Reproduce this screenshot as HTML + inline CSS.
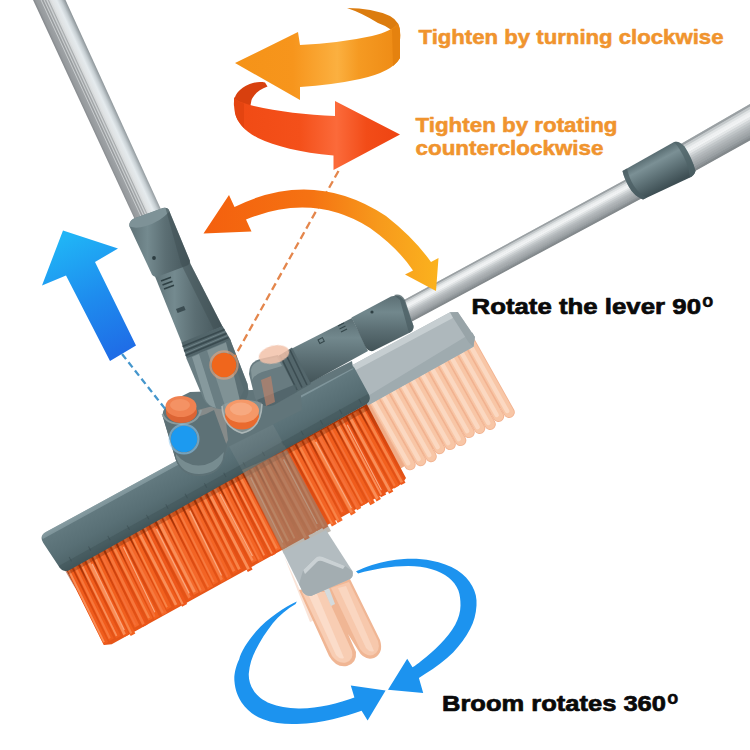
<!DOCTYPE html>
<html><head><meta charset="utf-8"><title>Broom</title>
<style>
html,body{margin:0;padding:0;background:#fff;}
body{width:750px;height:750px;overflow:hidden;font-family:"Liberation Sans",sans-serif;}
svg{display:block;}
text{font-family:"Liberation Sans",sans-serif;font-weight:bold;}
</style></head><body>
<svg width="750" height="750" viewBox="0 0 750 750">
<rect width="750" height="750" fill="#ffffff"/>

<defs>
  <linearGradient id="gPoleL" x1="0" y1="0" x2="1" y2="0">
    <stop offset="0" stop-color="#82868a"/>
    <stop offset="0.08" stop-color="#969a9d"/>
    <stop offset="0.30" stop-color="#a2a6a9"/>
    <stop offset="0.44" stop-color="#bec2c4"/>
    <stop offset="0.56" stop-color="#dfe2e3"/>
    <stop offset="0.72" stop-color="#e5ebee"/>
    <stop offset="0.85" stop-color="#c6ced2"/>
    <stop offset="0.94" stop-color="#a1a9ad"/>
    <stop offset="1" stop-color="#878f93"/>
  </linearGradient>
  <linearGradient id="gPoleR" x1="0" y1="0" x2="0" y2="1">
    <stop offset="0" stop-color="#9aa0a3"/>
    <stop offset="0.12" stop-color="#d9dddf"/>
    <stop offset="0.35" stop-color="#eef0f1"/>
    <stop offset="0.6" stop-color="#c9cdd0"/>
    <stop offset="0.85" stop-color="#a9aeb1"/>
    <stop offset="1" stop-color="#83898c"/>
  </linearGradient>
  <linearGradient id="gTubeL" x1="0" y1="0" x2="1" y2="0">
    <stop offset="0" stop-color="#5f7277"/>
    <stop offset="0.3" stop-color="#748a8f"/>
    <stop offset="0.6" stop-color="#5b6e73"/>
    <stop offset="1" stop-color="#45565b"/>
  </linearGradient>
  <linearGradient id="gTubeR" x1="0" y1="0" x2="0" y2="1">
    <stop offset="0" stop-color="#5c6f74"/>
    <stop offset="0.3" stop-color="#72888d"/>
    <stop offset="0.65" stop-color="#596c71"/>
    <stop offset="1" stop-color="#435458"/>
  </linearGradient>
  <linearGradient id="gBar" x1="0" y1="0" x2="0" y2="1">
    <stop offset="0" stop-color="#7a9196"/>
    <stop offset="0.10" stop-color="#62797f"/>
    <stop offset="0.55" stop-color="#586f75"/>
    <stop offset="0.85" stop-color="#4f656a"/>
    <stop offset="1" stop-color="#42565b"/>
  </linearGradient>
  <linearGradient id="gBarGhost" x1="0" y1="0" x2="0" y2="1">
    <stop offset="0" stop-color="#c4cccf"/>
    <stop offset="0.15" stop-color="#b3bcc0"/>
    <stop offset="0.8" stop-color="#a9b3b7"/>
    <stop offset="1" stop-color="#9aa5a9"/>
  </linearGradient>
  <linearGradient id="gBlueArrow" gradientUnits="userSpaceOnUse" x1="70" y1="235" x2="125" y2="355">
    <stop offset="0" stop-color="#20b4f6"/>
    <stop offset="0.5" stop-color="#1e8cee"/>
    <stop offset="1" stop-color="#1f6be6"/>
  </linearGradient>
  <linearGradient id="gOrA" gradientUnits="userSpaceOnUse" x1="235" y1="0" x2="400" y2="0">
    <stop offset="0" stop-color="#f59318"/>
    <stop offset="0.35" stop-color="#f7951c"/>
    <stop offset="0.62" stop-color="#fbb040"/>
    <stop offset="0.75" stop-color="#f59a22"/>
    <stop offset="1" stop-color="#ee8a14"/>
  </linearGradient>
  <linearGradient id="gRedA" gradientUnits="userSpaceOnUse" x1="233" y1="0" x2="400" y2="0">
    <stop offset="0" stop-color="#f04a14"/>
    <stop offset="0.4" stop-color="#f4501a"/>
    <stop offset="0.62" stop-color="#fb6a3a"/>
    <stop offset="0.8" stop-color="#f24c18"/>
    <stop offset="1" stop-color="#ee4412"/>
  </linearGradient>
  <linearGradient id="gArc" gradientUnits="userSpaceOnUse" x1="205" y1="0" x2="438" y2="0">
    <stop offset="0" stop-color="#f4600e"/>
    <stop offset="0.45" stop-color="#f57212"/>
    <stop offset="0.75" stop-color="#f79a1c"/>
    <stop offset="1" stop-color="#fbb21e"/>
  </linearGradient>
  <filter id="soft" x="-5%" y="-5%" width="110%" height="110%"><feGaussianBlur stdDeviation="0.6"/></filter>
  <filter id="soft2" x="-10%" y="-10%" width="120%" height="120%"><feGaussianBlur stdDeviation="1.2"/></filter>
</defs>

<g transform="translate(49.3,0) rotate(-24.7)"><polygon points="-14.8,-20 14.8,-20 14.0,246 -14.0,246" fill="url(#gPoleL)"/><path d="M-7.5,-20 L-7.1,246 M-4.8,-20 L-4.5,246 M-2.2,-20 L-2.0,246 M0.6,-20 L0.6,246" stroke="#d9dcdd" stroke-width="0.8" opacity="0.8"/><path d="M-6.1,-20 L-5.8,246 M-3.5,-20 L-3.2,246 M-0.8,-20 L-0.7,246" stroke="#8f9395" stroke-width="0.7" opacity="0.7"/></g>
<g>
<polygon points="404.0,300.0 640.0,171.8 648.0,194.7 412.0,321.0" fill="#c5cacc"/>
<polygon points="404.0,300.0 640.0,171.8 640.6,173.8 404.6,301.9" fill="#9aa0a3"/>
<polygon points="404.6,301.5 640.6,173.4 641.1,175.5 405.1,303.4" fill="#c4c9cb"/>
<polygon points="405.1,303.0 641.1,175.1 641.7,177.1 405.7,304.9" fill="#dfe3e4"/>
<polygon points="405.7,304.5 641.7,176.7 642.3,178.7 406.3,306.4" fill="#eef0f1"/>
<polygon points="406.3,306.0 642.3,178.3 642.9,180.4 406.9,307.9" fill="#f1f3f4"/>
<polygon points="406.9,307.5 642.9,180.0 643.4,182.0 407.4,309.4" fill="#e4e7e8"/>
<polygon points="407.4,309.0 643.4,181.6 644.0,183.7 408.0,310.9" fill="#d2d6d8"/>
<polygon points="408.0,310.5 644.0,183.2 644.6,185.3 408.6,312.4" fill="#c2c7c9"/>
<polygon points="408.6,312.0 644.6,184.9 645.1,186.9 409.1,313.9" fill="#b6bbbe"/>
<polygon points="409.1,313.5 645.1,186.5 645.7,188.6 409.7,315.4" fill="#adb2b5"/>
<polygon points="409.7,315.0 645.7,188.2 646.3,190.2 410.3,316.9" fill="#a5aaad"/>
<polygon points="410.3,316.5 646.3,189.8 646.9,191.8 410.9,318.4" fill="#9ca2a5"/>
<polygon points="410.9,318.0 646.9,191.4 647.4,193.5 411.4,319.9" fill="#90969a"/>
<polygon points="411.4,319.5 647.4,193.1 648.0,195.1 412.0,321.4" fill="#83898c"/>
</g>
<g>
<polygon points="676.0,146.7 752.0,102.8 752.0,139.0 688.0,174.7" fill="#c5cacc"/>
<polygon points="676.0,146.7 752.0,102.8 752.0,105.8 676.9,149.1" fill="#9aa0a3"/>
<polygon points="676.9,148.7 752.0,105.4 752.0,108.4 677.7,151.1" fill="#c4c9cb"/>
<polygon points="677.7,150.7 752.0,108.0 752.0,111.0 678.6,153.1" fill="#dfe3e4"/>
<polygon points="678.6,152.7 752.0,110.6 752.0,113.5 679.4,155.1" fill="#eef0f1"/>
<polygon points="679.4,154.7 752.0,113.1 752.0,116.1 680.3,157.1" fill="#f1f3f4"/>
<polygon points="680.3,156.7 752.0,115.7 752.0,118.7 681.1,159.1" fill="#e4e7e8"/>
<polygon points="681.1,158.7 752.0,118.3 752.0,121.3 682.0,161.1" fill="#d2d6d8"/>
<polygon points="682.0,160.7 752.0,120.9 752.0,123.9 682.9,163.1" fill="#c2c7c9"/>
<polygon points="682.9,162.7 752.0,123.5 752.0,126.5 683.7,165.1" fill="#b6bbbe"/>
<polygon points="683.7,164.7 752.0,126.1 752.0,129.1 684.6,167.1" fill="#adb2b5"/>
<polygon points="684.6,166.7 752.0,128.7 752.0,131.6 685.4,169.1" fill="#a5aaad"/>
<polygon points="685.4,168.7 752.0,131.2 752.0,134.2 686.3,171.1" fill="#9ca2a5"/>
<polygon points="686.3,170.7 752.0,133.8 752.0,136.8 687.1,173.1" fill="#90969a"/>
<polygon points="687.1,172.7 752.0,136.4 752.0,139.4 688.0,175.1" fill="#83898c"/>
</g>
<linearGradient id="gCollar" gradientUnits="userSpaceOnUse" x1="648" y1="156" x2="665" y2="188"><stop offset="0" stop-color="#586c71"/><stop offset="0.25" stop-color="#7b9095"/><stop offset="0.55" stop-color="#62767b"/><stop offset="1" stop-color="#3e4f54"/></linearGradient>
<path d="M622.5,171 L674,142 Q679,140.5 684.5,146.5 Q692,158 695.5,171 Q694.5,175 690,177.5 L643,199.5 Q634,196 629,187 Q624,178 622.5,171 Z" fill="url(#gCollar)"/>
<path d="M622.5,171 L627,168.5 Q629,178 634,186 Q640,195 647,197.5 L643,199.5 Q634,196 629,187 Q624,178 622.5,171 Z" fill="#4a5c61" opacity="0.75"/>
<path d="M674,142 Q679,140.5 684.5,146.5 Q692,158 695.5,171 Q694.5,175 690,177.5 Q688,162 680,150 Q677,145 674,142 Z" fill="#4f6267" opacity="0.7"/>
<polygon points="362.7,404.9 473.2,342.4 508.5,402.9 399.9,468.9" fill="#efab86"/>
<line x1="371.3" y1="395.7" x2="410.0" y2="464.6" stroke="#f2b391" stroke-width="11.4" stroke-linecap="round"/>
<line x1="371.3" y1="395.7" x2="410.0" y2="464.6" stroke="#f8c6a6" stroke-width="9.6" stroke-linecap="round"/>
<line x1="371.4" y1="397.9" x2="408.2" y2="463.3" stroke="#fbd8c1" stroke-width="4.4" stroke-linecap="round"/>
<line x1="381.2" y1="390.3" x2="420.6" y2="460.5" stroke="#f2b391" stroke-width="11.4" stroke-linecap="round"/>
<line x1="381.2" y1="390.3" x2="420.6" y2="460.5" stroke="#f8c6a6" stroke-width="9.6" stroke-linecap="round"/>
<line x1="381.2" y1="392.5" x2="418.7" y2="459.2" stroke="#fbd8c1" stroke-width="4.4" stroke-linecap="round"/>
<line x1="391.0" y1="384.9" x2="431.1" y2="456.5" stroke="#f2b391" stroke-width="11.4" stroke-linecap="round"/>
<line x1="391.0" y1="384.9" x2="431.1" y2="456.5" stroke="#f8c6a6" stroke-width="9.6" stroke-linecap="round"/>
<line x1="391.1" y1="387.2" x2="429.3" y2="455.2" stroke="#fbd8c1" stroke-width="4.4" stroke-linecap="round"/>
<line x1="400.8" y1="379.6" x2="439.5" y2="448.5" stroke="#f2b391" stroke-width="11.4" stroke-linecap="round"/>
<line x1="400.8" y1="379.6" x2="439.5" y2="448.5" stroke="#f8c6a6" stroke-width="9.6" stroke-linecap="round"/>
<line x1="400.9" y1="381.8" x2="437.7" y2="447.2" stroke="#fbd8c1" stroke-width="4.4" stroke-linecap="round"/>
<line x1="410.7" y1="374.2" x2="450.1" y2="444.4" stroke="#f2b391" stroke-width="11.4" stroke-linecap="round"/>
<line x1="410.7" y1="374.2" x2="450.1" y2="444.4" stroke="#f8c6a6" stroke-width="9.6" stroke-linecap="round"/>
<line x1="410.7" y1="376.5" x2="448.2" y2="443.1" stroke="#fbd8c1" stroke-width="4.4" stroke-linecap="round"/>
<line x1="420.5" y1="368.9" x2="460.6" y2="440.4" stroke="#f2b391" stroke-width="11.4" stroke-linecap="round"/>
<line x1="420.5" y1="368.9" x2="460.6" y2="440.4" stroke="#f8c6a6" stroke-width="9.6" stroke-linecap="round"/>
<line x1="420.6" y1="371.1" x2="458.8" y2="439.1" stroke="#fbd8c1" stroke-width="4.4" stroke-linecap="round"/>
<line x1="430.3" y1="363.5" x2="469.0" y2="432.4" stroke="#f2b391" stroke-width="11.4" stroke-linecap="round"/>
<line x1="430.3" y1="363.5" x2="469.0" y2="432.4" stroke="#f8c6a6" stroke-width="9.6" stroke-linecap="round"/>
<line x1="430.4" y1="365.7" x2="467.2" y2="431.1" stroke="#fbd8c1" stroke-width="4.4" stroke-linecap="round"/>
<line x1="440.2" y1="358.1" x2="479.6" y2="428.3" stroke="#f2b391" stroke-width="11.4" stroke-linecap="round"/>
<line x1="440.2" y1="358.1" x2="479.6" y2="428.3" stroke="#f8c6a6" stroke-width="9.6" stroke-linecap="round"/>
<line x1="440.2" y1="360.4" x2="477.7" y2="427.1" stroke="#fbd8c1" stroke-width="4.4" stroke-linecap="round"/>
<line x1="450.0" y1="352.8" x2="490.1" y2="424.3" stroke="#f2b391" stroke-width="11.4" stroke-linecap="round"/>
<line x1="450.0" y1="352.8" x2="490.1" y2="424.3" stroke="#f8c6a6" stroke-width="9.6" stroke-linecap="round"/>
<line x1="450.1" y1="355.0" x2="488.3" y2="423.0" stroke="#fbd8c1" stroke-width="4.4" stroke-linecap="round"/>
<line x1="459.8" y1="347.4" x2="498.5" y2="416.3" stroke="#f2b391" stroke-width="11.4" stroke-linecap="round"/>
<line x1="459.8" y1="347.4" x2="498.5" y2="416.3" stroke="#f8c6a6" stroke-width="9.6" stroke-linecap="round"/>
<line x1="459.9" y1="349.7" x2="496.7" y2="415.0" stroke="#fbd8c1" stroke-width="4.4" stroke-linecap="round"/>
<line x1="469.7" y1="342.1" x2="509.1" y2="412.3" stroke="#f2b391" stroke-width="11.4" stroke-linecap="round"/>
<line x1="469.7" y1="342.1" x2="509.1" y2="412.3" stroke="#f8c6a6" stroke-width="9.6" stroke-linecap="round"/>
<line x1="469.7" y1="344.3" x2="507.2" y2="411.0" stroke="#fbd8c1" stroke-width="4.4" stroke-linecap="round"/>
<polygon points="349.7,366.5 450.0,312.3 457.8,312.0 474.8,337.0 473.4,346.8 366.8,406.1" fill="#aeb8bc"/>
<polygon points="349.7,366.5 450.0,312.3 455.6,312.1 457.5,315.6 352.6,371.7" fill="#c6ced1"/>
<polygon points="362.9,399.1 472.4,332.6 474.8,337.0 473.4,346.8 366.8,406.1" fill="#9fabaf"/>
<polygon points="450.0,312.3 457.8,312.0 474.8,337.0 473.4,346.8 468.8,342.5 452.7,317.2" fill="#98a4a8"/>
<linearGradient id="gBrBase" gradientUnits="userSpaceOnUse" x1="150.3" y1="523.0" x2="191.5" y2="598.5"><stop offset="0" stop-color="#b93a0a"/><stop offset="0.45" stop-color="#d8470f"/><stop offset="1" stop-color="#e65518"/></linearGradient>
<polygon points="66.0,569.0 366.7,403.9 406.0,478.1 402.2,483.6 111.7,644.3 104.1,645.0" fill="url(#gBrBase)"/>
<polygon points="66.4,569.3 71.1,566.8 108.1,642.2 103.6,644.7" fill="#f05c1c"/>
<polygon points="67.2,569.5 69.0,568.5 104.8,641.8 103.2,642.6" fill="#f98e58"/>
<polygon points="64.9,570.2 66.8,569.1 75.6,588.8" fill="#8e2c06" opacity="0.55"/>
<polygon points="72.6,565.9 77.3,563.4 113.8,638.4 109.3,640.9" fill="#f05c1c"/>
<polygon points="73.4,566.1 75.5,564.9 110.8,637.8 108.8,638.9" fill="#f7773c"/>
<polygon points="78.8,562.6 83.6,560.0 120.8,636.0 116.2,638.5" fill="#f05c1c"/>
<polygon points="79.6,562.7 81.3,561.8 117.4,635.6 115.8,636.4" fill="#f98e58"/>
<polygon points="77.2,563.4 79.2,562.4 87.9,582.1" fill="#8e2c06" opacity="0.55"/>
<polygon points="85.1,559.1 90.5,556.2 129.0,634.4 123.8,637.2" fill="#f05c1c"/>
<polygon points="85.8,559.3 88.5,557.9 125.8,633.8 123.4,635.2" fill="#f98e58"/>
<polygon points="91.5,564.2 92.7,563.5 124.8,629.8 123.8,630.4" fill="#fbb08a" opacity="0.9"/>
<polygon points="92.0,555.4 96.7,552.8 135.3,633.5 130.7,636.0" fill="#f2601e"/>
<polygon points="92.7,555.5 94.8,554.4 132.2,632.9 130.3,634.0" fill="#f88448"/>
<polygon points="90.4,556.2 92.3,555.2 100.8,575.0" fill="#8e2c06" opacity="0.55"/>
<polygon points="98.2,552.0 102.7,549.5 139.2,625.0 134.9,627.4" fill="#f4682a"/>
<polygon points="99.0,552.1 100.7,551.2 136.0,624.5 134.5,625.3" fill="#f57038"/>
<polygon points="104.2,548.7 109.1,546.0 147.5,624.4 142.7,627.0" fill="#ec5519"/>
<polygon points="104.9,548.9 107.6,547.4 144.7,623.6 142.2,625.0" fill="#f7773c"/>
<polygon points="102.6,549.6 104.5,548.5 113.3,568.3" fill="#8e2c06" opacity="0.55"/>
<polygon points="110.6,545.2 115.0,542.8 152.7,618.3 148.5,620.6" fill="#f36424"/>
<polygon points="111.4,545.4 113.5,544.2 150.0,617.5 148.1,618.6" fill="#f88448"/>
<polygon points="116.5,542.0 121.5,539.3 159.2,616.6 154.4,619.2" fill="#f2601e"/>
<polygon points="117.3,542.2 119.0,541.2 155.5,616.3 153.9,617.2" fill="#f57038"/>
<polygon points="122.9,547.1 124.1,546.4 155.4,611.9 154.3,612.5" fill="#fbb08a" opacity="0.9"/>
<polygon points="114.9,542.9 116.8,541.8 125.6,561.6" fill="#8e2c06" opacity="0.55"/>
<polygon points="122.9,538.5 127.9,535.8 167.1,612.8 162.3,615.4" fill="#f4682a"/>
<polygon points="123.7,538.6 125.8,537.5 163.8,612.3 161.9,613.4" fill="#f67a40"/>
<polygon points="129.4,535.0 134.4,532.2 171.5,607.1 166.7,609.7" fill="#f2601e"/>
<polygon points="130.2,535.1 131.9,534.2 167.8,606.8 166.2,607.7" fill="#f88448"/>
<polygon points="127.8,535.8 129.7,534.8 138.6,554.4" fill="#8e2c06" opacity="0.55"/>
<polygon points="135.9,531.4 141.3,528.5 180.4,604.8 175.2,607.6" fill="#f05c1c"/>
<polygon points="136.7,531.6 139.3,530.2 177.3,604.2 174.8,605.6" fill="#f98e58"/>
<polygon points="142.7,527.7 148.0,524.9 187.1,604.1 182.1,606.8" fill="#ee581c"/>
<polygon points="143.5,527.8 145.6,526.7 183.6,603.7 181.7,604.8" fill="#f98e58"/>
<polygon points="141.2,528.6 143.1,527.5 151.9,547.2" fill="#8e2c06" opacity="0.55"/>
<polygon points="149.4,524.0 154.4,521.3 193.6,597.9 188.8,600.5" fill="#ee581c"/>
<polygon points="150.2,524.2 152.8,522.8 190.8,597.1 188.4,598.5" fill="#f67a40"/>
<polygon points="155.8,529.1 157.1,528.4 189.8,593.1 188.7,593.7" fill="#fbb08a" opacity="0.9"/>
<polygon points="155.9,520.5 161.0,517.8 198.7,592.2 193.8,594.9" fill="#f4682a"/>
<polygon points="156.7,520.7 159.3,519.2 195.8,591.5 193.3,592.8" fill="#f98e58"/>
<polygon points="154.3,521.4 156.3,520.3 165.3,539.9" fill="#8e2c06" opacity="0.55"/>
<polygon points="162.5,517.0 167.7,514.1 205.5,590.1 200.4,592.9" fill="#f4682a"/>
<polygon points="163.2,517.1 165.0,516.1 201.6,590.0 200.0,590.8" fill="#f88448"/>
<polygon points="169.2,513.3 174.6,510.4 213.1,586.5 207.9,589.3" fill="#f36424"/>
<polygon points="170.0,513.4 171.7,512.5 209.1,586.4 207.5,587.3" fill="#f7773c"/>
<polygon points="167.6,514.1 169.5,513.1 178.6,532.7" fill="#8e2c06" opacity="0.55"/>
<polygon points="176.1,509.5 181.2,506.7 218.4,582.0 213.4,584.7" fill="#f36424"/>
<polygon points="176.8,509.7 178.6,508.7 214.5,581.8 212.9,582.6" fill="#f67a40"/>
<polygon points="182.7,505.9 187.2,503.4 225.3,580.2 221.0,582.5" fill="#f2601e"/>
<polygon points="183.5,506.1 186.1,504.6 223.0,579.1 220.6,580.5" fill="#f67a40"/>
<polygon points="189.1,511.0 190.4,510.3 222.0,575.2 221.0,575.7" fill="#fbb08a" opacity="0.9"/>
<polygon points="181.1,506.8 183.1,505.7 191.9,525.4" fill="#8e2c06" opacity="0.55"/>
<polygon points="188.7,502.6 193.3,500.1 231.7,576.8 227.3,579.2" fill="#f36424"/>
<polygon points="189.5,502.8 191.2,501.8 228.4,576.3 226.8,577.2" fill="#f57038"/>
<polygon points="194.8,499.3 199.2,496.9 237.5,571.7 233.3,574.0" fill="#f05c1c"/>
<polygon points="195.6,499.5 198.2,498.0 235.3,570.6 232.8,572.0" fill="#f67a40"/>
<polygon points="193.2,500.2 195.2,499.1 204.3,518.6" fill="#8e2c06" opacity="0.55"/>
<polygon points="200.7,496.1 205.2,493.6 242.9,569.7 238.5,572.1" fill="#ec5519"/>
<polygon points="201.5,496.2 204.1,494.8 240.6,568.7 238.1,570.1" fill="#f88448"/>
<polygon points="206.7,492.8 211.7,490.1 252.6,569.4 247.8,572.0" fill="#ec5519"/>
<polygon points="207.5,493.0 210.1,491.5 249.8,568.6 247.4,570.0" fill="#f98e58"/>
<polygon points="205.1,493.7 207.1,492.6 216.2,512.1" fill="#8e2c06" opacity="0.55"/>
<polygon points="213.2,489.3 218.2,486.5 256.9,560.4 252.0,563.1" fill="#f4682a"/>
<polygon points="213.9,489.5 216.0,488.3 253.5,560.0 251.5,561.0" fill="#f98e58"/>
<polygon points="219.6,494.4 220.8,493.7 253.0,555.7 251.9,556.3" fill="#fbb08a" opacity="0.9"/>
<polygon points="219.7,485.7 224.5,483.1 263.3,559.4 258.8,561.9" fill="#f36424"/>
<polygon points="220.5,485.9 222.2,484.9 259.9,559.0 258.3,559.8" fill="#f7773c"/>
<polygon points="218.1,486.6 220.1,485.5 229.1,505.1" fill="#8e2c06" opacity="0.55"/>
<polygon points="226.0,482.3 230.3,479.9 268.0,555.5 263.8,557.8" fill="#ee581c"/>
<polygon points="226.7,482.5 228.5,481.5 265.0,554.9 263.4,555.7" fill="#f98e58"/>
<polygon points="231.8,479.1 236.3,476.7 275.9,553.8 271.7,556.1" fill="#ee581c"/>
<polygon points="232.6,479.3 234.4,478.3 272.8,553.2 271.2,554.1" fill="#f98e58"/>
<polygon points="230.3,480.0 232.2,478.9 241.3,498.4" fill="#8e2c06" opacity="0.55"/>
<polygon points="237.8,475.9 242.1,473.5 280.4,548.7 276.2,551.0" fill="#f4682a"/>
<polygon points="238.5,476.0 240.6,474.9 277.7,547.9 275.7,549.0" fill="#f88448"/>
<polygon points="243.6,472.7 248.6,470.0 287.2,547.0 282.4,549.6" fill="#f36424"/>
<polygon points="244.4,472.8 246.5,471.7 283.9,546.5 281.9,547.6" fill="#f67a40"/>
<polygon points="250.0,477.7 251.3,477.1 283.4,542.2 282.3,542.8" fill="#fbb08a" opacity="0.9"/>
<polygon points="242.0,473.6 244.0,472.5 252.9,492.1" fill="#8e2c06" opacity="0.55"/>
<polygon points="250.1,469.2 255.0,466.5 292.4,541.3 287.7,543.8" fill="#ee581c"/>
<polygon points="250.9,469.3 253.0,468.2 289.2,540.7 287.3,541.8" fill="#f88448"/>
<polygon points="256.5,465.7 261.7,462.8 299.2,538.1 294.2,540.9" fill="#ec5519"/>
<polygon points="257.2,465.9 259.0,464.9 295.3,538.0 293.7,538.8" fill="#f88448"/>
<polygon points="254.9,466.6 256.8,465.5 265.7,485.1" fill="#8e2c06" opacity="0.55"/>
<polygon points="263.2,462.0 268.3,459.2 309.8,537.9 304.9,540.6" fill="#ee581c"/>
<polygon points="264.0,462.2 266.6,460.7 306.9,537.2 304.4,538.6" fill="#f7773c"/>
<polygon points="269.8,458.4 275.0,455.6 315.7,531.8 310.6,534.6" fill="#ee581c"/>
<polygon points="270.5,458.6 273.2,457.2 312.6,531.2 310.1,532.5" fill="#f57038"/>
<polygon points="268.2,459.3 270.1,458.2 279.5,477.6" fill="#8e2c06" opacity="0.55"/>
<polygon points="276.5,454.7 281.5,452.1 321.5,528.5 316.8,531.1" fill="#ec5519"/>
<polygon points="277.3,454.9 279.1,453.9 317.9,528.2 316.3,529.0" fill="#f57038"/>
<polygon points="282.9,459.8 284.2,459.1 317.8,523.7 316.7,524.3" fill="#fbb08a" opacity="0.9"/>
<polygon points="283.0,451.3 288.2,448.4 328.2,526.6 323.1,529.4" fill="#ec5519"/>
<polygon points="283.7,451.4 285.8,450.3 324.6,526.3 322.7,527.3" fill="#f67a40"/>
<polygon points="281.4,452.1 283.3,451.1 292.4,470.6" fill="#8e2c06" opacity="0.55"/>
<polygon points="289.7,447.6 294.8,444.8 336.8,523.7 331.9,526.4" fill="#f36424"/>
<polygon points="290.4,447.7 292.2,446.8 333.0,523.5 331.5,524.4" fill="#f88448"/>
<polygon points="296.3,444.0 301.4,441.2 342.7,520.3 337.7,523.0" fill="#f4682a"/>
<polygon points="297.1,444.1 299.2,443.0 339.2,519.9 337.3,521.0" fill="#f88448"/>
<polygon points="294.7,444.8 296.7,443.8 305.9,463.2" fill="#8e2c06" opacity="0.55"/>
<polygon points="302.9,440.4 307.3,438.0 346.0,512.2 341.8,514.5" fill="#ee581c"/>
<polygon points="303.7,440.5 305.8,439.4 343.3,511.4 341.4,512.4" fill="#f57038"/>
<polygon points="308.8,437.2 313.8,434.4 355.8,512.7 351.0,515.4" fill="#f36424"/>
<polygon points="309.5,437.3 312.2,435.9 353.0,512.0 350.6,513.3" fill="#f88448"/>
<polygon points="315.2,442.2 316.4,441.6 352.0,508.0 350.9,508.6" fill="#fbb08a" opacity="0.9"/>
<polygon points="307.2,438.0 309.1,437.0 318.6,456.3" fill="#8e2c06" opacity="0.55"/>
<polygon points="315.3,433.6 319.7,431.2 361.2,508.0 357.0,510.3" fill="#f4682a"/>
<polygon points="316.1,433.8 318.2,432.6 358.5,507.2 356.5,508.3" fill="#f57038"/>
<polygon points="321.2,430.4 326.5,427.5 366.8,503.3 361.6,506.1" fill="#f05c1c"/>
<polygon points="321.9,430.6 324.1,429.4 363.1,503.0 361.2,504.1" fill="#f67a40"/>
<polygon points="319.6,431.3 321.5,430.2 330.9,449.6" fill="#8e2c06" opacity="0.55"/>
<polygon points="328.0,426.7 332.8,424.1 374.9,502.7 370.3,505.2" fill="#f2601e"/>
<polygon points="328.8,426.8 330.5,425.9 371.4,502.3 369.8,503.1" fill="#f57038"/>
<polygon points="334.2,423.3 338.7,420.8 380.9,499.1 376.6,501.4" fill="#f2601e"/>
<polygon points="335.0,423.4 337.6,422.0 378.7,498.0 376.2,499.4" fill="#f98e58"/>
<polygon points="332.7,424.1 334.6,423.1 344.1,442.4" fill="#8e2c06" opacity="0.55"/>
<polygon points="340.2,420.0 345.6,417.1 386.2,494.4 380.9,497.2" fill="#ec5519"/>
<polygon points="341.0,420.2 342.7,419.2 382.1,494.3 380.5,495.2" fill="#f98e58"/>
<polygon points="346.6,425.1 347.8,424.4 381.9,489.9 380.9,490.4" fill="#fbb08a" opacity="0.9"/>
<polygon points="347.1,416.3 351.5,413.9 393.3,491.6 389.1,493.8" fill="#f05c1c"/>
<polygon points="347.9,416.4 350.5,415.0 391.2,490.4 388.7,491.8" fill="#f98e58"/>
<polygon points="345.5,417.1 347.5,416.1 357.0,435.4" fill="#8e2c06" opacity="0.55"/>
<polygon points="352.9,413.1 358.3,410.2 399.4,485.5 394.2,488.4" fill="#f2601e"/>
<polygon points="353.7,413.2 355.8,412.1 395.7,485.3 393.7,486.3" fill="#f7773c"/>
<polygon points="359.8,409.4 364.3,406.9 405.5,482.7 401.1,485.1" fill="#ee581c"/>
<polygon points="360.6,409.5 363.2,408.1 403.1,481.7 400.7,483.0" fill="#f88448"/>
<polygon points="358.2,410.2 360.2,409.2 369.7,428.4" fill="#8e2c06" opacity="0.55"/>
<polygon points="66.0,569.0 366.7,403.9 369.6,409.2 68.9,574.2" fill="#7a2c08" opacity="0.35"/>
<path d="M284,556 L310,622 L320,618 L300,590 Z" fill="#f3c3a8" opacity="0.45"/>
<path d="M299,590 L329,656 Q336,668 347,666 Q357,663 356,652 L348,634 L358,650 Q364,661 374,658 Q384,653 380,640 L350,579 Z" fill="#f0b694"/>
<path d="M302,592 L332,656 Q338,664 346,662.5 Q354,660 352,651 L325,592 Z" fill="#f8cdb3"/>
<path d="M308,594 L336,655 Q340,660 344,658 L317,594 Z" fill="#fbdcc9"/>
<path d="M331,588 L360,649 Q366,657 373,655 Q381,651 378,641 L349,582 Z" fill="#f7c8ac"/>
<path d="M338,588 L366,648 Q370,653 374,651 L346,586 Z" fill="#fad6c0"/>
<path d="M324,590 L331,606 L335,604 L329,588 Z" fill="#d5dbdd"/>
<g transform="translate(42.40,534.00) rotate(-28.60)">
<path d="M4,0 L350,0 Q353.5,0 353.5,3 L353.5,34 Q353,40 347,41 L8,44.5 Q0,45 -1,38 L-3.5,8 Q-4,0 4,0 Z" fill="url(#gBar)"/>
<path d="M4,0 L350,0 L352,4 L-2,4.5 Q-2,0 4,0 Z" fill="#8aa0a5" opacity="0.7"/>
<path d="M-1,36 L353,33 Q353,40 347,41 L8,44.5 Q0,45 -1,38 Z" fill="#3f5358" opacity="0.5"/>
<rect x="12" y="33" width="1" height="5" fill="#3a4d52" opacity="0.6"/>
<rect x="34" y="33" width="1" height="5" fill="#3a4d52" opacity="0.6"/>
<rect x="56" y="33" width="1" height="5" fill="#3a4d52" opacity="0.6"/>
<rect x="78" y="33" width="1" height="5" fill="#3a4d52" opacity="0.6"/>
<rect x="100" y="33" width="1" height="5" fill="#3a4d52" opacity="0.6"/>
<rect x="122" y="33" width="1" height="5" fill="#3a4d52" opacity="0.6"/>
<rect x="144" y="33" width="1" height="5" fill="#3a4d52" opacity="0.6"/>
<rect x="166" y="33" width="1" height="5" fill="#3a4d52" opacity="0.6"/>
<rect x="188" y="33" width="1" height="5" fill="#3a4d52" opacity="0.6"/>
<rect x="210" y="33" width="1" height="5" fill="#3a4d52" opacity="0.6"/>
<rect x="232" y="33" width="1" height="5" fill="#3a4d52" opacity="0.6"/>
<rect x="254" y="33" width="1" height="5" fill="#3a4d52" opacity="0.6"/>
<rect x="276" y="33" width="1" height="5" fill="#3a4d52" opacity="0.6"/>
<rect x="298" y="33" width="1" height="5" fill="#3a4d52" opacity="0.6"/>
<rect x="320" y="33" width="1" height="5" fill="#3a4d52" opacity="0.6"/>
<rect x="342" y="33" width="1" height="5" fill="#3a4d52" opacity="0.6"/>
</g>
<polygon points="242,470 287,450 331,531 284,554" fill="#8c8478" opacity="0.58"/>
<polygon points="226,441 270,419 287,450 242,470" fill="#b0b4b2" opacity="0.13"/>
<path d="M282.8,551.6 L326,530 L352.4,571 Q354,576 350,579 L311,596 Q306,596 303,592.5 Z" fill="#b3bcc0"/>
<path d="M303.2,570 L316,557.5 Q319,555.5 323,557 L345,566 L352.4,571 Q354,576 350,579 L311,596 Q306,596 303,592.5 L299,584 Z" fill="#a3adb1"/>
<path d="M303.2,570 L316,557.5 Q319,555.5 323,557 L345,566 L343,569 L322,561 Q319,560 317,562 L305,574 Z" fill="#cad1d4"/>
<path d="M162.5,415 Q163,406 174,400 L190,392 L252,390 L300,382 L302,410 L262,430 L228,447 L223,460 C220,471 210,476 199,476 C188,476 179,470 175.5,459 Z" fill="#61757a"/>
<path d="M198,410 L224,403 L228,440 L222,452 L206,446 Z" fill="#a59c97" opacity="0.55"/>
<path d="M162.5,416 L175.5,459 C179,470 188,476 199,476 C210,476 220,471 223.5,461 L227,446 L214,410 Q190,424 162.5,416 Z" fill="#5d7176"/>
<path d="M176,457 C180,469 188,474 199,474 C210,474 219,469 222.5,460 L224,452 Q212,466 198,465.5 Q185,465 176,454 Z" fill="#7b9095" opacity="0.85"/>
<g>
<polygon points="292,394 310,382 352,361 353,368 300,396" fill="#62767b"/>
<polygon points="291,349 352,318 368,351 308,384" fill="url(#gTubeR)"/>
<path d="M351.5,317.5 L391,296.5 Q400,293.5 404.5,301 L413.5,326 Q414,331 409,333 L373,351 Q368,352 365,346 Z" fill="url(#gTubeR)"/>
<path d="M394,295 Q401,293 405,300 L413.5,326 Q414,331 409,333 L400,300 Z" fill="#4d6065" opacity="0.8"/>
<polygon points="275,358 292,347.5 311,384 294,393.5" fill="#54676c"/>
<path d="M280,355 L297,390 M285,352.5 L302,387.5 M290,350 L307,385" stroke="#3c4d52" stroke-width="1.6" fill="none"/>
<path d="M249,374 Q249,362 260,359 L278,355 L297,392 L274,405 Q260,410 255,398 Z" fill="#687b80"/>
<path d="M251,370 Q252,363 261,360.5 L277,357 L282,366 L262,372 Q254,375 252,380 Z" fill="#8a9b9e" opacity="0.85"/>
<path d="M257,400 L296,384 L297,392 L274,405 Q262,409 257,400 Z" fill="#4e6166" opacity="0.8"/>
<ellipse cx="274" cy="354.5" rx="15.5" ry="9" transform="rotate(-14 274 354.5)" fill="#f3c2aa" opacity="0.85" filter="url(#soft)"/>
<path d="M261,380 L271,376 L275,402 L266,406 Z" fill="#c98468" opacity="0.6"/>
<rect x="0" y="0" width="5" height="4" transform="translate(318,340) rotate(-28)" fill="none" stroke="#34464a" stroke-width="1"/>
<path d="M338,326 l6,-3 M339.5,329 l6,-3 M341,332 l6,-3" stroke="#34464a" stroke-width="1.2"/>
<circle cx="372" cy="312" r="1.6" fill="#2f4044"/>
</g>
<g>
<polygon points="154,274 189.5,262 222.5,326.5 182,343.5" fill="url(#gTubeL)"/>
<path d="M129.5,226.5 Q128.5,221.5 134,218.5 L163,208 Q168,207 169.5,211.5 L189.8,260.5 Q190.5,264.5 186,266 L158,276.5 Q153,278 151,272.5 Z" fill="url(#gTubeL)"/>
<path d="M129.5,226.5 Q128.5,221.5 134,218.5 L163,208 Q168,207 169.5,211.5 Q160,222 146,226 Q136,229 129.5,226.5 Z" fill="#7e9297"/>
<path d="M165.5,208 Q168.5,207.5 169.5,211.5 L189.8,260.5 L190.5,264 L222.5,326.5 L214,330 L181,264 Z" fill="#3f5054" opacity="0.5"/>
<polygon points="181.5,342.5 222.5,326 231,340.5 187,359.5" fill="#52656a"/>
<path d="M182.5,346.5 L224.5,329.5 M184,351 L226.5,333.5 M185.5,355.5 L228.5,337.5" stroke="#394a4f" stroke-width="1.5"/>
<path d="M183.5,349 L225.5,331.5 M185,353.5 L227.5,335.5" stroke="#7a8e93" stroke-width="1" opacity="0.7"/>
<circle cx="154" cy="258" r="1.9" fill="#2c3c40"/>
<path d="M161,281 l10,-3.8 M162.5,285 l10,-3.8 M164,289 l10,-3.8" stroke="#2f4044" stroke-width="1.6"/>
<path d="M176,309 l8,-3 l1.6,4 l-8,3 z" fill="#3b4c51"/>
</g>
<path d="M186.4,358.5 L230.4,340 L247.5,384 Q250.5,396 243,404 Q232,411 219,409 Q207,407 203.5,399 Z" fill="#6a7e83"/>
<path d="M192,357 L199,354 L216,408 Q208,406 205,399 Z" fill="#93a5a8" opacity="0.7"/>
<path d="M207,350.5 L226,342.5 L244,390 L236,406 L226,409 Z" fill="#91a2a4" opacity="0.55"/>
<path d="M226,342 L230.4,340 L247.5,384 Q250.5,396 243,404 L241,405 Z" fill="#53666b" opacity="0.8"/>
<circle cx="224" cy="365" r="12.3" fill="#f0661c" filter="url(#soft)"/>
<circle cx="224" cy="365" r="13.6" fill="none" stroke="#f3a77c" stroke-width="2.2" opacity="0.55" filter="url(#soft)"/>
<path d="M162.5,414 Q166,424 182,424 Q198,423 201,410" fill="none" stroke="#8fa0a3" stroke-width="2" opacity="0.9"/>
<ellipse cx="181.5" cy="412" rx="15.5" ry="11" fill="#dc6434"/>
<ellipse cx="181" cy="406.5" rx="15.5" ry="10.5" fill="#f08150"/>
<ellipse cx="180" cy="405" rx="10" ry="6" fill="#f59a6c" opacity="0.7"/>
<path d="M222,405 Q222,428 242,434 Q262,430 262,403 Q242,396 222,405 Z" fill="#9aa6a6" opacity="0.55"/>
<ellipse cx="242" cy="417" rx="17" ry="12.5" fill="#ea6a2e"/>
<ellipse cx="242" cy="411" rx="17" ry="11.5" fill="#f59868"/>
<ellipse cx="241" cy="409" rx="11" ry="6.5" fill="#f8b08a" opacity="0.7"/>
<path d="M222,406 Q223,427 242,433 Q261,429 262,404" fill="none" stroke="#b7c0c0" stroke-width="1.6" opacity="0.8"/>
<circle cx="184" cy="439" r="13.2" fill="#1e9af0" filter="url(#soft)"/>
<circle cx="184" cy="439" r="14.4" fill="none" stroke="#8ccaf5" stroke-width="2.2" opacity="0.55" filter="url(#soft)"/>
<polygon points="63,230.5 118,248.5 95,262 136,345.5 110,361 66,275.5 42,285.5" fill="url(#gBlueArrow)"/>
<path d="M347,8 Q372,8 390,16 Q401,22 400,34 L396,36 Q392,28 378,23 Q362,13 347,8 Z" fill="#dc7c0e"/>
<path d="M300,45 Q340,43 372,36 Q392,31 397,24 Q401,28 400,40 L400,58 Q392,72 360,79 Q332,85 300,87 L300,100 L235,63 L298,32 Z" fill="url(#gOrA)"/>
<path d="M392,29 Q396,27 397,24 Q401,28 400,40 L400,58 Q398,62 393,66 Z" fill="#e5820f"/>
<path d="M234,106 C233,96 238,89 249.7,84 C255,82 260,81.5 265,82.5 L267.5,86.5 C260,89 254,94 251.5,100 L250,108 Z" fill="#d8400e"/>
<path d="M234,97 C235,100 241,102.5 250,105 C275,111.5 305,114.5 335,116 L335,101 L400,134.5 L333.5,170 L333.5,155.5 C300,152.5 275,146 258,138 C245,131.5 237,122.5 235,113 Q234,106 234,97 Z" fill="url(#gRedA)"/>
<path d="M234,97 C235,100 239,102 244,103.5 L244,128 C239,123 236,118 235,113 Q234,106 234,97 Z" fill="#e2440f" opacity="0.9"/>
<line x1="338.5" y1="171" x2="234.5" y2="357" stroke="#e4864c" stroke-width="2.3" stroke-dasharray="7.5,4.2"/>
<line x1="122" y1="354" x2="166" y2="410" stroke="#4596cc" stroke-width="2.3" stroke-dasharray="6.5,4"/>
<path d="M203.5,233.5 L229,195 L234.5,207 Q313,168 386,216 Q414,238 431,262 L438.5,258 L436,291 L405,274.5 L413,270.5 Q398,248 370,228 Q313,192 246,219.5 L251.5,231.5 Z" fill="url(#gArc)"/>
<path d="M356,571.3 C361,569 366,567 372,565 C383,561.5 393,559.5 404,559 C414,558.5 423,559 431.7,560.7 C441,562.5 450,565.5 457.3,570.3 C464,574.5 469,580 472.3,586.3 C475.5,592 477,598.5 476.5,605.5 C476,614 474,622 470.1,628.9 C466,637 460,645 453.1,652.4 C445,660.5 435.5,667.5 425.3,673.7 L418.9,678 L423.2,692.9 L388,689.7 L407.2,658.8 L412.5,667.3 C415.5,665.5 418.5,663 421.1,660.9 C428,655.5 434.5,650 440.3,643.9 C446,638 451.5,631.5 455.2,624.7 C458.5,618.5 460.5,612 460.5,605.5 C460.5,600 460,595 458.4,590.5 C456.5,585.5 453,581 448.8,577.7 C444,574 438,571 431.7,569.2 C424.5,567 416.5,566 408.3,566 C399.5,566 391,566.8 382.7,568.1 C374,569.5 366,571.3 358.1,573.5 Z" fill="#1c93ef"/>
<path d="M296.8,601.6 C285,607 268,618 256,631.6 C247,642 241,652 239.2,659.2 C235,668 234,676 234.4,680.8 C235,690 238,697 241.6,702.4 C247,710 254,716 263.2,719.2 C273,723 285,724.5 296.8,724 C310,723.5 322,722 332.8,719.2 C343,717 353,714 361.6,710.8 L367.6,720.4 L385.6,690.4 L350.8,685.6 L354.4,697.6 C347,700 338,703.5 328,705.3 C318,707.5 309,708.5 299.2,708.4 C288,708.5 278,706.5 270.4,703.6 C263,700.5 257,696 253.6,690.4 C250,685 248.5,679 248.8,673.6 C249.5,665 252,657 256,649.6 C260,641 266,632 272.8,623.2 C279,616 287,609 295.6,604 Z" fill="#1c93ef"/>
<g stroke-linejoin="round">
<text x="418.5" y="44.3" font-size="20.5" fill="#f0942e" stroke="#f0942e" stroke-width="0.55" textLength="305" lengthAdjust="spacingAndGlyphs">Tighten by turning clockwise</text>
<text x="415.5" y="132.2" font-size="20.5" fill="#f0942e" stroke="#f0942e" stroke-width="0.55" textLength="202" lengthAdjust="spacingAndGlyphs">Tighten by rotating</text>
<text x="415.5" y="155.0" font-size="20.5" fill="#f0942e" stroke="#f0942e" stroke-width="0.55" textLength="188" lengthAdjust="spacingAndGlyphs">counterclockwise</text>
<text x="471.5" y="313.9" font-size="22.5" fill="#0a0a0a" stroke="#0a0a0a" stroke-width="0.7" textLength="229.5" lengthAdjust="spacingAndGlyphs">Rotate the lever 90</text>
<text x="702.3" y="306.9" font-size="18" fill="#0a0a0a" stroke="#0a0a0a" stroke-width="0.5">o</text>
<text x="442" y="710.7" font-size="22.5" fill="#0a0a0a" stroke="#0a0a0a" stroke-width="0.7" textLength="224" lengthAdjust="spacingAndGlyphs">Broom rotates 360</text>
<text x="667.2" y="704.0" font-size="18" fill="#0a0a0a" stroke="#0a0a0a" stroke-width="0.5">o</text>
</g>
</svg>
</body></html>
